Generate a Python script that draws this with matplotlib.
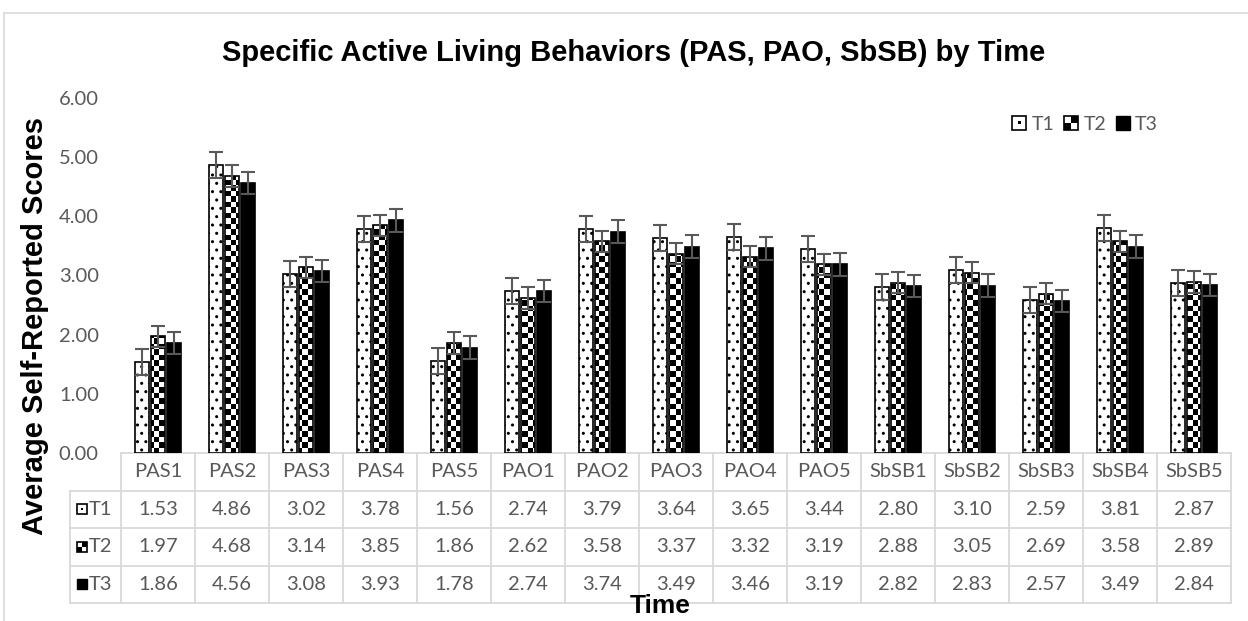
import numpy as np
import matplotlib
matplotlib.use('Agg')
import matplotlib.pyplot as plt
from matplotlib.patches import Rectangle
from matplotlib.path import Path
from matplotlib.transforms import blended_transform_factory
from matplotlib.legend_handler import HandlerBase

plt.rcParams['font.family'] = ['Lato', 'DejaVu Sans']

categories = ['PAS1', 'PAS2', 'PAS3', 'PAS4', 'PAS5', 'PAO1', 'PAO2', 'PAO3',
              'PAO4', 'PAO5', 'SbSB1', 'SbSB2', 'SbSB3', 'SbSB4', 'SbSB5']
series_names = ['T1', 'T2', 'T3']
t1 = [1.53, 4.86, 3.02, 3.78, 1.56, 2.74, 3.79, 3.64, 3.65, 3.44, 2.80, 3.10, 2.59, 3.81, 2.87]
t2 = [1.97, 4.68, 3.14, 3.85, 1.86, 2.62, 3.58, 3.37, 3.32, 3.19, 2.88, 3.05, 2.69, 3.58, 2.89]
t3 = [1.86, 4.56, 3.08, 3.93, 1.78, 2.74, 3.74, 3.49, 3.46, 3.19, 2.82, 2.83, 2.57, 3.49, 2.84]
err = [0.22, 0.18, 0.19]
yticks = [0, 1, 2, 3, 4, 5, 6]

title = 'Specific Active Living Behaviors (PAS, PAO, SbSB) by Time'
ylabel = 'Average Self-Reported Scores'
xlabel = 'Time'

W, H = 1248, 621
fig = plt.figure(figsize=(W / 100, H / 100), dpi=100)
AX_L, AX_R, AX_T, AX_B = 121, 1231, 98, 453
ax = fig.add_axes([AX_L / W, (H - AX_B) / H, (AX_R - AX_L) / W, (AX_B - AX_T) / H])

TXT = '#595959'
GRID = '#d9d9d9'
BOLD = ['Liberation Sans', 'DejaVu Sans']

# chart border
fig.add_artist(plt.Line2D([4 / W, 4 / W], [0, (H - 13) / H], color=GRID, lw=1.2))
fig.add_artist(plt.Line2D([4 / W, 1], [(H - 13) / H, (H - 13) / H], color=GRID, lw=1.2))

x = np.arange(len(categories))
off = 0.216
bw = 0.19
b1 = ax.bar(x - off, t1, bw, facecolor='white', edgecolor='black', hatch='..',
            linewidth=1.2, zorder=3)
b2 = ax.bar(x, t2, bw, facecolor='none', edgecolor='black', linewidth=1.2, zorder=3)
b3 = ax.bar(x + off, t3, bw, facecolor='black', edgecolor='black', linewidth=1.2, zorder=3)

# checkerboard fill for T2, clipped to the bars
cell = 5.5
nx = int(round((AX_R - AX_L) / cell))
ny = int(round((AX_B - AX_T) / cell))
chk = (np.add.outer(np.arange(ny), np.arange(nx)) % 2).astype(float)
im = ax.imshow(chk, cmap='gray', vmin=0, vmax=1, extent=(0, 1, 0, 1),
               transform=ax.transAxes, interpolation='nearest', aspect='auto', zorder=2)
paths = [b.get_patch_transform().transform_path(b.get_path()) for b in b2]
im.set_clip_path(Path.make_compound_path(*paths), ax.transData)

for xs, vals, e in zip([x - off, x, x + off], [t1, t2, t3], err):
    ax.errorbar(xs, vals, yerr=e, fmt='none', ecolor=TXT, elinewidth=1.5,
                capsize=4.7, capthick=1.5, zorder=4)

ax.set_xlim(-0.5, len(categories) - 0.5)
ax.set_ylim(0, 6)
ax.set_yticks(yticks)
ax.set_yticklabels([f'{v:.2f}' for v in yticks])
ax.tick_params(axis='y', length=0, pad=16, labelsize=14.5, labelcolor=TXT)
ax.set_xticks([])
for s in ax.spines.values():
    s.set_visible(False)

# ---- data table ----
tr = blended_transform_factory(ax.transData, ax.transAxes)
rh = 37.5 / (AX_B - AX_T)
cw = (AX_R - AX_L) / len(categories)
left_x = -0.5 - (AX_L - 70) / cw
n = len(categories)
lk = dict(transform=tr, color=GRID, lw=1.3, clip_on=False, zorder=1)
ax.plot([-0.5, n - 0.5], [0, 0], **lk)
for r in range(1, 5):
    ax.plot([left_x, n - 0.5], [-r * rh, -r * rh], **lk)
for k in range(n + 1):
    ax.plot([k - 0.5, k - 0.5], [0, -4 * rh], **lk)
ax.plot([left_x, left_x], [-rh, -4 * rh], **lk)

for i, c in enumerate(categories):
    ax.text(i, -0.5 * rh, c, transform=tr, ha='center', va='center',
            fontsize=14.5, color=TXT)
for r, vals in enumerate([t1, t2, t3]):
    for i, v in enumerate(vals):
        ax.text(i, -(r + 1.5) * rh, f'{v:.2f}', transform=tr, ha='center',
                va='center', fontsize=14.5, color=TXT)


def key_artists(kind, x0, y0, sx, sy, trans, clip=True):
    arts = []
    kw = dict(transform=trans, clip_on=clip)
    if kind == 2:
        arts.append(Rectangle((x0, y0), sx, sy, facecolor='black', edgecolor='black',
                              lw=1, **kw))
        return arts
    arts.append(Rectangle((x0, y0), sx, sy, facecolor='white', edgecolor='black',
                          lw=1.2, **kw))
    if kind == 0:
        arts.append(Rectangle((x0 + sx * 0.4, y0 + sy * 0.4), sx * 0.2, sy * 0.2,
                              facecolor='black', edgecolor='none', **kw))
    else:
        arts.append(Rectangle((x0, y0), sx / 2, sy / 2, facecolor='black',
                              edgecolor='none', **kw))
        arts.append(Rectangle((x0 + sx / 2, y0 + sy / 2), sx / 2, sy / 2,
                              facecolor='black', edgecolor='none', **kw))
    return arts


# row labels with keys
ks = 10
sx = ks / (AX_R - AX_L)
sy = ks / (AX_B - AX_T)
kx = (77 - AX_L) / (AX_R - AX_L)
for r, name in enumerate(series_names):
    yc = -(r + 1.5) * rh
    for a in key_artists(r, kx, yc - sy / 2, sx, sy, ax.transAxes, clip=False):
        ax.add_patch(a)
    ax.text(kx + sx + 2 / (AX_R - AX_L), yc, name, transform=ax.transAxes,
            ha='left', va='center', fontsize=14.5, color=TXT)


class KeyHandler(HandlerBase):
    def __init__(self, kind):
        super().__init__()
        self.kind = kind

    def create_artists(self, legend, orig_handle, xdescent, ydescent, width,
                       height, fontsize, trans):
        s = min(width, height)
        x0 = -xdescent + (width - s) / 2
        y0 = -ydescent + (height - s) / 2
        return key_artists(self.kind, x0, y0, s, s, trans)


handles = [Rectangle((0, 0), 1, 1) for _ in series_names]
leg = ax.legend(handles, series_names,
                handler_map={h: KeyHandler(k) for k, h in enumerate(handles)},
                ncol=3, frameon=False, fontsize=14, labelcolor=TXT,
                handlelength=0.75, handleheight=0.75, handletextpad=0.25,
                columnspacing=0.5, loc='center',
                bbox_to_anchor=((1085 - AX_L) / (AX_R - AX_L), (AX_B - 124) / (AX_B - AX_T)))

fig.text(634 / W, 1 - 53 / H, title, ha='center', va='center', fontsize=21,
         fontweight='bold', family=BOLD, color='black')
ax.text((35 - AX_L) / (AX_R - AX_L), (AX_B - 326) / (AX_B - AX_T), ylabel,
        transform=ax.transAxes, rotation=90, ha='center', va='center',
        fontsize=21, fontweight='bold', family=BOLD, color='black')
ax.text((660 - AX_L) / (AX_R - AX_L), (AX_B - 606) / (AX_B - AX_T), xlabel,
        transform=ax.transAxes, ha='center', va='center', fontsize=19,
        fontweight='bold', family=BOLD, color='black', zorder=6)

fig.savefig('out.png', dpi=100, facecolor='white')
